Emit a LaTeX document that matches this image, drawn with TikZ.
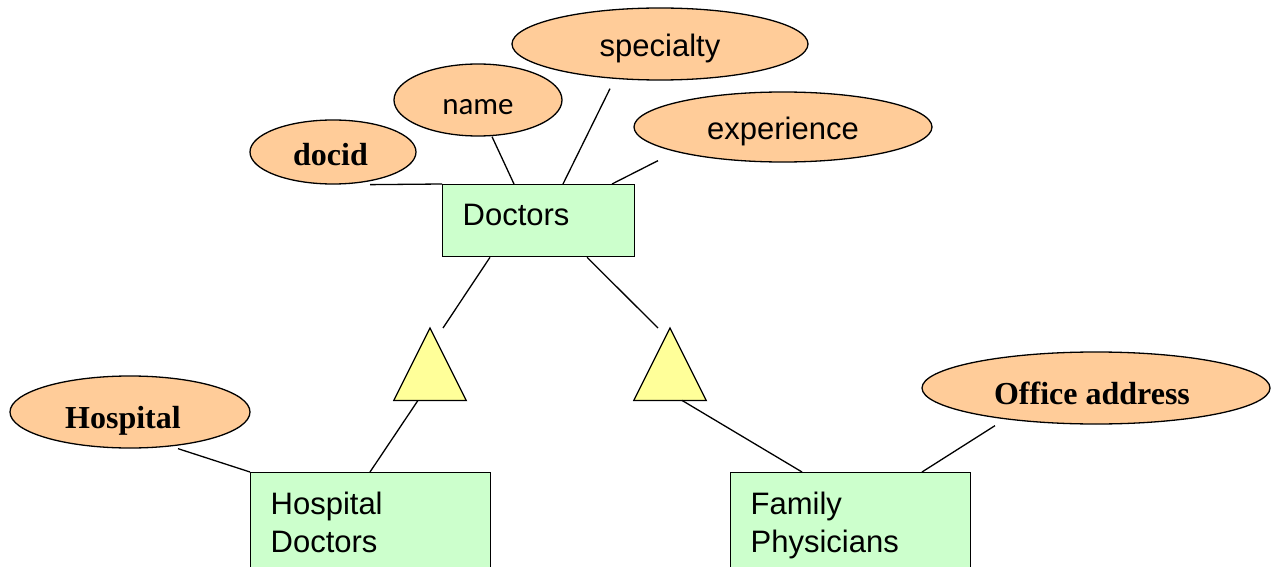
\documentclass[tikz,border=0pt]{standalone}
\usepackage{fontspec}
\usetikzlibrary{shapes.geometric}
\setmainfont{Liberation Sans}
\newfontfamily\calibfont{Carlito}
\newfontfamily\timesfont{Liberation Serif}
\definecolor{attrfill}{HTML}{FFCC99}
\definecolor{entfill}{HTML}{CCFFCC}
\definecolor{isafill}{HTML}{FFFF99}
\newcommand{\keyfont}{\timesfont\bfseries\fontsize{32}{38}\selectfont}
\begin{document}
\begin{tikzpicture}[x=1pt,y=-1pt,
  every node/.style={font=\fontsize{31}{38}\selectfont},
  attr/.style={ellipse, draw=black, line width=1.3pt, fill=attrfill, inner sep=0pt,
    text height=30pt, text depth=0pt},
  entity/.style={rectangle, draw=black, line width=1.3pt, fill=entfill, anchor=north west,
    align=left, inner xsep=20pt, inner ysep=0pt},
  isanode/.style={inner sep=0pt, minimum width=72pt, minimum height=72pt, anchor=north},
  isashape/.style={draw=black, line width=1.3pt, fill=isafill, line join=miter},
  link/.style={draw=black, line width=1.3pt}]
\useasboundingbox (0,0) rectangle (1272,567);
\clip (0,0) rectangle (1272,567);

% attributes of Doctors
\node[attr, minimum width=166pt, minimum height=64pt, text height=26pt] (docid) at (333,152)
  {\keyfont docid\kern5pt};
\node[attr, minimum width=168pt, minimum height=72pt] (name) at (478,100)
  {\calibfont\fontsize{31}{36}\selectfont name};
\node[attr, minimum width=296pt, minimum height=72pt, text height=26pt] (spec) at (660,44) {specialty};
\node[attr, minimum width=298pt, minimum height=70pt, text height=26pt] (exper) at (783,127) {experience};

% entities
\node[entity, minimum width=192pt, minimum height=72pt, text width=152pt,
  text height=10pt, text depth=0pt] (doc) at (442,184) {Doctors};
\node[entity, minimum width=240pt, minimum height=100pt, text width=200pt] (hd) at (250,472)
  {Hospital\\Doctors};
\node[entity, minimum width=240pt, minimum height=106pt, text width=200pt] (fp) at (730,472)
  {Family\\Physicians};

% specialisation triangles
\node[isanode] (tl) at (430,328) {};
\node[isanode] (tr) at (670,328) {};
\path[isashape] (tl.north) -- (tl.south west) -- (tl.south east) -- cycle;
\path[isashape] (tr.north) -- (tr.south west) -- (tr.south east) -- cycle;

% attributes of the subclasses
\node[attr, minimum width=240pt, minimum height=72pt, text height=32pt] (hosp) at (130,412)
  {\keyfont Hospital\kern14pt};
\node[attr, minimum width=348pt, minimum height=72pt, text height=32pt] (office) at (1096,388)
  {\keyfont Office address\kern8pt};

% connectors
\draw[link] ([xshift=37pt]docid.south) -- (doc.north west);
\draw[link] ([xshift=14pt]name.south) -- ([xshift=72pt]doc.north west);
\draw[link] ([xshift=-50pt,yshift=-8pt]spec.south) -- ([xshift=121pt]doc.north west);
\draw[link] ([xshift=-125pt,yshift=2pt]exper.south) -- ([xshift=170pt]doc.north west);
\draw[link] ([xshift=48pt]doc.south west) -- ([xshift=13pt]tl.north);
\draw[link] ([xshift=145pt]doc.south west) -- ([xshift=-12pt]tr.north);
\draw[link] ([xshift=-12pt]tl.south) -- ([xshift=120pt]hd.north west);
\draw[link] ([xshift=48pt]hosp.south) -- (hd.north west);
\draw[link] ([xshift=12pt]tr.south) -- ([xshift=72pt]fp.north west);
\draw[link] ([xshift=-101pt,yshift=-1pt]office.south) -- ([xshift=192pt]fp.north west);
\end{tikzpicture}
\end{document}
